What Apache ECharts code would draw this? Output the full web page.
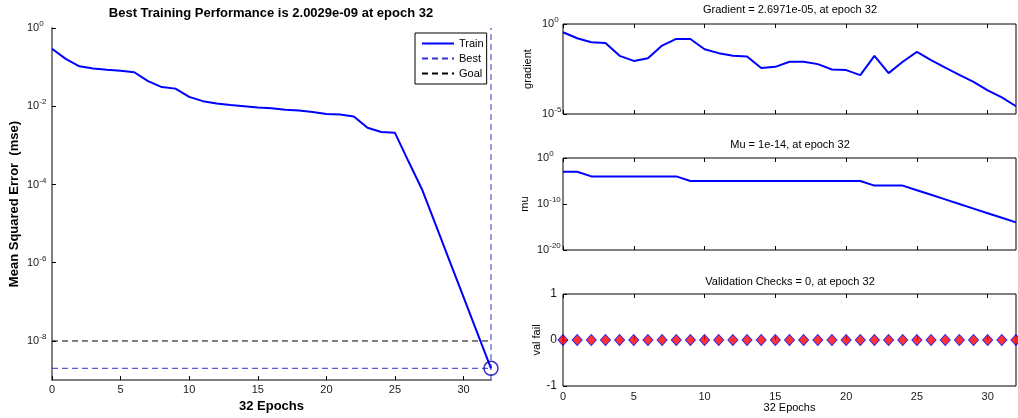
<!DOCTYPE html>
<html>
<head>
<meta charset="utf-8">
<script src="https://cdn.jsdelivr.net/npm/echarts@6/dist/echarts.min.js"></script>
<style>
html,body{margin:0;padding:0;background:#fff;}
#chart{width:1018px;height:418px;}
</style>
</head>
<body>
<div id="chart"></div>
<script>
// ---------------- data ----------------
const epochs = [0,1,2,3,4,5,6,7,8,9,10,11,12,13,14,15,16,17,18,19,20,21,22,23,24,25,26,27,28,29,30,31,32];
const trainPerf = [0.295,0.162,0.105,0.0923,0.0851,0.0813,0.0741,0.0437,0.0309,0.0282,0.0174,0.0135,0.0117,0.0107,0.0100,0.00933,0.00891,0.00813,0.00776,0.00708,0.00631,0.00617,0.00550,0.00282,0.00219,0.00209,3.8e-4,7.1e-5,8.7e-6,1.07e-6,1.32e-7,1.62e-8,2.0029e-9];
const bestPerf = 2.0029e-9;
const bestEpoch = 32;
const goalPerf = 1e-8;
const gradient = [0.347,0.162,0.0977,0.0891,0.0170,0.00891,0.0126,0.0631,0.148,0.148,0.0398,0.0240,0.0170,0.0155,0.00355,0.00417,0.00794,0.00794,0.00589,0.00295,0.00275,0.00145,0.0170,0.00186,0.00794,0.0282,0.00977,0.00380,0.00151,6.17e-4,2.04e-4,8.32e-5,2.6971e-5];
const mu = [1e-3,1e-3,1e-4,1e-4,1e-4,1e-4,1e-4,1e-4,1e-4,1e-5,1e-5,1e-5,1e-5,1e-5,1e-5,1e-5,1e-5,1e-5,1e-5,1e-5,1e-5,1e-5,1e-6,1e-6,1e-6,1e-7,1e-8,1e-9,1e-10,1e-11,1e-12,1e-13,1e-14];
const valFail = [0,0,0,0,0,0,0,0,0,0,0,0,0,0,0,0,0,0,0,0,0,0,0,0,0,0,0,0,0,0,0,0,0];
const xTicks = [0,5,10,15,20,25,30];
const perfTicks = [1e-8,1e-6,1e-4,1e-2,1];
const gradTicks = [1e-5,1];
const muTicks = [1e-20,1e-10,1];
const valTicks = [-1,0,1];

// ---------------- helpers ----------------
const FONT = '"Liberation Sans", Arial, sans-serif';
const pairs = (ys) => epochs.map((e, i) => [e, ys[i]]);
function supLabel(margin, size, ticks) {
  return {
    show: true,
    fontFamily: FONT,
    color: '#1a1a1a',
    margin: margin,
    align: 'left',
    customValues: ticks,
    formatter: (v) => '{b|10}{s|' + Math.round(Math.log10(v)) + '}',
    rich: {
      b: { fontFamily: FONT, fontSize: size, color: '#1a1a1a', lineHeight: 16 },
      s: { fontFamily: FONT, fontSize: size - 3, color: '#1a1a1a', verticalAlign: 'top', lineHeight: 8 }
    }
  };
}
const tickIn = { show: true, inside: true, length: 4, lineStyle: { color: '#000', width: 1 }, customValues: xTicks };
const xHidden = (grid, pos) => ({ gridIndex: grid, type: 'value', position: pos, min: 0, max: 32, interval: 5,
  axisLine: { show: false }, axisTick: tickIn, axisLabel: { show: false }, splitLine: { show: false } });
const RL = 563, RW = 453;
const titleStyle = { fontFamily: FONT, fontSize: 11, fontWeight: 'normal', color: '#000' };

const option = {
  animation: false,
  backgroundColor: '#fff',
  title: [
    { text: 'Best Training Performance is 2.0029e-09 at epoch 32', left: 271, top: 7, padding: 0, textAlign: 'center',
      textStyle: { fontFamily: FONT, fontSize: 13, fontWeight: 'bold', color: '#000' } },
    { text: 'Gradient = 2.6971e-05, at epoch 32', left: 790, top: 4, padding: 0, textAlign: 'center', textStyle: titleStyle },
    { text: 'Mu = 1e-14, at epoch 32', left: 790, top: 139, padding: 0, textAlign: 'center', textStyle: titleStyle },
    { text: 'Validation Checks = 0, at epoch 32', left: 790, top: 276, padding: 0, textAlign: 'center', textStyle: titleStyle }
  ],
  legend: {
    data: ['Train', 'Best', 'Goal'],
    orient: 'vertical',
    left: 415, top: 33,
    padding: [5, 3, 5, 6],
    itemGap: 4,
    itemWidth: 32, itemHeight: 11,
    backgroundColor: '#fff',
    borderColor: '#000', borderWidth: 1,
    itemStyle: { color: 'rgba(0,0,0,0)', borderColor: 'rgba(0,0,0,0)', borderWidth: 0, opacity: 0 },
    textStyle: { fontFamily: FONT, fontSize: 11, color: '#000' }
  },
  grid: [
    { left: 52, top: 28, width: 439, height: 357, show: false },
    { left: RL, top: 24, width: RW, height: 90, show: true, borderColor: '#000', borderWidth: 1 },
    { left: RL, top: 158, width: RW, height: 92, show: true, borderColor: '#000', borderWidth: 1 },
    { left: RL, top: 294, width: RW, height: 92, show: true, borderColor: '#000', borderWidth: 1 }
  ],
  xAxis: [
    { gridIndex: 0, type: 'value', min: 0, max: 32, interval: 5,
      name: '32 Epochs', nameLocation: 'middle', nameGap: 18,
      nameTextStyle: { fontFamily: FONT, fontSize: 13, fontWeight: 'bold', color: '#000' },
      axisLine: { show: true, lineStyle: { color: '#808080', width: 2 } },
      axisTick: tickIn, splitLine: { show: false },
      axisLabel: { fontFamily: FONT, fontSize: 11, color: '#1a1a1a', margin: 4, customValues: xTicks } },
    xHidden(1, 'bottom'),
    xHidden(1, 'top'),
    xHidden(2, 'bottom'),
    xHidden(2, 'top'),
    { gridIndex: 3, type: 'value', min: 0, max: 32, interval: 5,
      name: '32 Epochs', nameLocation: 'middle', nameGap: 16,
      nameTextStyle: { fontFamily: FONT, fontSize: 11, color: '#000' },
      axisLine: { show: false }, axisTick: tickIn, splitLine: { show: false },
      axisLabel: { fontFamily: FONT, fontSize: 11, color: '#1a1a1a', margin: 5, customValues: xTicks } },
    xHidden(3, 'top')
  ],
  yAxis: [
    { gridIndex: 0, type: 'log', min: 1e-9, max: 1,
      name: 'Mean Squared Error  (mse)', nameLocation: 'middle', nameGap: 31,
      nameTextStyle: { fontFamily: FONT, fontSize: 13, fontWeight: 'bold', color: '#000' },
      axisLine: { show: true, lineStyle: { color: '#808080', width: 2 } },
      axisTick: Object.assign({}, tickIn, { customValues: perfTicks }),
      splitLine: { show: false }, minorTick: { show: false },
      axisLabel: supLabel(25, 11, perfTicks) },
    { gridIndex: 1, type: 'log', min: 1e-5, max: 1,
      name: 'gradient', nameLocation: 'middle', nameGap: 30,
      nameTextStyle: { fontFamily: FONT, fontSize: 11, color: '#000' },
      axisLine: { show: false },
      axisTick: Object.assign({}, tickIn, { customValues: gradTicks }),
      splitLine: { show: false },
      axisLabel: supLabel(21, 11, gradTicks) },
    { gridIndex: 2, type: 'log', min: 1e-20, max: 1,
      name: 'mu', nameLocation: 'middle', nameGap: 33,
      nameTextStyle: { fontFamily: FONT, fontSize: 11, color: '#000' },
      axisLine: { show: false },
      axisTick: Object.assign({}, tickIn, { customValues: muTicks }),
      splitLine: { show: false },
      axisLabel: supLabel(26, 11, muTicks) },
    { gridIndex: 3, type: 'value', min: -1, max: 1, interval: 1,
      name: 'val fail', nameLocation: 'middle', nameGap: 20,
      nameTextStyle: { fontFamily: FONT, fontSize: 11, color: '#000' },
      axisLine: { show: false }, axisTick: Object.assign({}, tickIn, { customValues: valTicks }), splitLine: { show: false },
      axisLabel: { fontFamily: FONT, fontSize: 12, color: '#1a1a1a', margin: 6, customValues: valTicks } }
  ],
  series: [
    { name: 'Train', type: 'line', xAxisIndex: 0, yAxisIndex: 0, data: pairs(trainPerf), symbol: 'none',
      lineStyle: { color: '#0000ff', width: 2 }, itemStyle: { color: '#0000ff' }, z: 5 },
    { name: 'Best', type: 'line', xAxisIndex: 0, yAxisIndex: 0, data: [[0, bestPerf], [bestEpoch, bestPerf]], symbol: 'none',
      lineStyle: { color: '#3333cc', width: 1, type: [6, 4] }, itemStyle: { color: '#3333cc' }, z: 3 },
    { name: 'BestV', type: 'line', xAxisIndex: 0, yAxisIndex: 0, data: [[bestEpoch, 1e-9], [bestEpoch, 1]], symbol: 'none',
      lineStyle: { color: '#3333cc', width: 1, type: [6, 4] }, z: 3 },
    { name: 'Goal', type: 'line', xAxisIndex: 0, yAxisIndex: 0, data: [[0, goalPerf], [bestEpoch, goalPerf]], symbol: 'none',
      lineStyle: { color: '#000', width: 1, type: [6, 4] }, itemStyle: { color: '#000' }, z: 3 },
    { name: 'BestMark', type: 'scatter', xAxisIndex: 0, yAxisIndex: 0, data: [[bestEpoch, bestPerf]], symbol: 'circle', symbolSize: 14,
      clip: false, itemStyle: { color: 'rgba(0,0,0,0)', borderColor: '#0000b0', borderWidth: 1.5 }, z: 6 },
    { name: 'gradient', type: 'line', xAxisIndex: 1, yAxisIndex: 1, data: pairs(gradient), symbol: 'none',
      lineStyle: { color: '#0000ff', width: 2 } },
    { name: 'mu', type: 'line', xAxisIndex: 3, yAxisIndex: 2, data: pairs(mu), symbol: 'none',
      lineStyle: { color: '#0000ff', width: 2 } },
    { name: 'val fail', type: 'scatter', xAxisIndex: 5, yAxisIndex: 3, data: pairs(valFail), symbol: 'diamond', symbolSize: [10, 11],
      clip: false, itemStyle: { color: '#ff0000', borderColor: '#0000ff', borderWidth: 1 }, z: 5 }
  ]
};

const chart = echarts.init(document.getElementById('chart'), null, { renderer: 'canvas' });
chart.setOption(option);
</script>
</body>
</html>
